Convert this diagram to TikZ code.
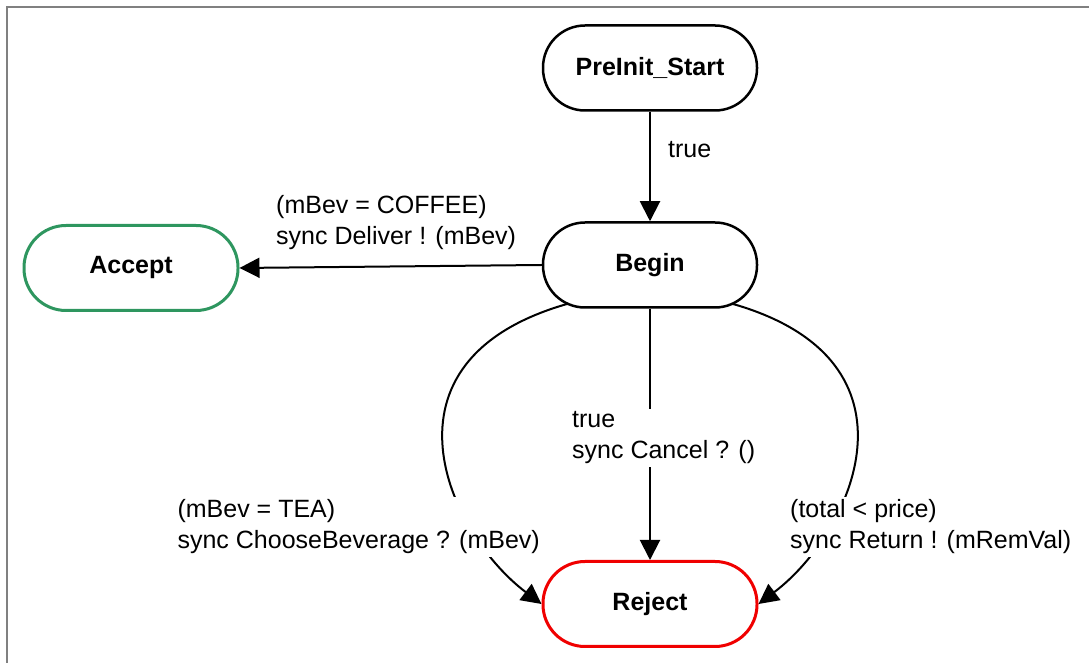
\documentclass[tikz,border=0pt]{standalone}
\usepackage{fontspec}
\setmainfont{Liberation Sans}
\usetikzlibrary{arrows.meta}

\definecolor{verde}{RGB}{46,150,95}
\definecolor{rosso}{RGB}{240,0,0}

\tikzstyle{stato} = [rectangle, rounded corners=42pt, minimum width=214pt, minimum height=85pt, text centered, draw=black, line width=2.5pt, font=\fontsize{25}{31}\selectfont\bfseries]
\tikzstyle{transizione} = [line width=2pt, -{Triangle[length=20pt,width=20pt]}]
\tikzstyle{etichetta} = [align=left, inner sep=3pt, font=\fontsize{25}{31}\selectfont]

\begin{document}
\begin{tikzpicture}[x=1pt,y=1pt]

    \useasboundingbox (0,0) rectangle (1089,663);
    % Cornice
    \draw[line width=1.5pt, gray] (7,0) -- (7,656) -- (1089,656);

    % Stati
    \node[stato] (preinit) at (650,595) {PreInit\_Start};
    \node[stato] (begin) at (650,398) {Begin};
    \node[stato, draw=verde, line width=3pt] (accept) at (131,395) {Accept};
    \node[stato, draw=rosso, line width=3pt] (reject) at (650,59) {Reject};

    % Transizioni
    \draw[transizione] (preinit) -- (begin);
    \node[etichetta, anchor=west] (lblInit) at (665,513) {true};

    \draw[transizione] (begin.west) -- (accept.east);
    \node[etichetta, anchor=west] (lblCoffee) at (273,440) {(mBev = COFFEE)\\sync Deliver ! (mBev)};

    \draw[transizione] (begin.south) -- (reject.north);
    \node[etichetta, anchor=west, fill=white] (lblCancel) at (569,225) {true\\sync Cancel ? ()};

    \draw[transizione] (567,359) .. controls +(196:207) and +(143:117) .. (reject.west);
    \node[etichetta, anchor=east, fill=white] (lblTea) at (543,136) {(mBev = TEA)\\sync ChooseBeverage ? (mBev)};

    \draw[transizione] (733,359) .. controls +(-16:207) and +(37:117) .. (reject.east);
    \node[etichetta, anchor=west, fill=white] (lblReturn) at (787,136) {(total < price)\\sync Return ! (mRemVal)};

\end{tikzpicture}
\end{document}
